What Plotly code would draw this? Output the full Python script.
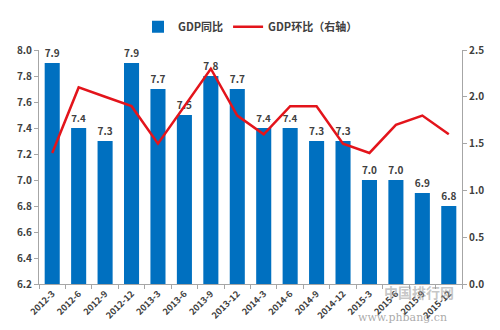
import plotly.graph_objects as go

quarters = ["2012-3", "2012-6", "2012-9", "2012-12", "2013-3", "2013-6", "2013-9", "2013-12",
            "2014-3", "2014-6", "2014-9", "2014-12", "2015-3", "2015-6", "2015-9", "2015-12"]
gdp_yoy = [7.9, 7.4, 7.3, 7.9, 7.7, 7.5, 7.8, 7.7, 7.4, 7.4, 7.3, 7.3, 7.0, 7.0, 6.9, 6.8]
gdp_qoq = [1.4, 2.1, 2.0, 1.9, 1.5, 1.9, 2.3, 1.8, 1.6, 1.9, 1.9, 1.5, 1.4, 1.7, 1.8, 1.6]
left_ticks = [6.2, 6.4, 6.6, 6.8, 7.0, 7.2, 7.4, 7.6, 7.8, 8.0]
right_ticks = [0.0, 0.5, 1.0, 1.5, 2.0, 2.5]

FONT = "Noto Sans CJK SC"
TXT = "#404040"
AX = "#A6A6A6"

fig = go.Figure()
fig.add_trace(go.Bar(
    x=quarters, y=gdp_yoy, name="GDP同比",
    marker=dict(color="#0070C0", line=dict(width=0)),
    text=[f"{v:.1f}" for v in gdp_yoy], textposition="outside",
    textfont=dict(family=FONT, size=11, color=TXT, weight="bold"),
    cliponaxis=False, yaxis="y",
))
fig.add_trace(go.Scatter(
    x=quarters, y=gdp_qoq, name="GDP环比（右轴）", mode="lines",
    line=dict(color="#E3141B", width=2.5), yaxis="y2",
))

fig.update_layout(
    width=500, height=330,
    margin=dict(l=39, r=38, t=50, b=46, autoexpand=False),
    paper_bgcolor="white", plot_bgcolor="white",
    font=dict(family=FONT, size=11, color=TXT),
    bargap=0.43,
    showlegend=True,
    legend=dict(orientation="h", x=0.5, xanchor="center", y=0.875, yanchor="bottom",
                yref="container", font=dict(family=FONT, size=11, color=TXT, weight="bold"),
                itemwidth=30, bgcolor="rgba(0,0,0,0)"),
    xaxis=dict(type="category", tickangle=-45, showline=True, linecolor=AX, linewidth=1,
               ticks="outside", tickson="boundaries", tickcolor=AX, ticklen=4,
               tickfont=dict(family=FONT, size=9, color=TXT, weight="bold"), showgrid=False),
    yaxis=dict(range=[6.2, 8.0], tickvals=left_ticks, tickformat=".1f", showline=True,
               linecolor=AX, linewidth=1, ticks="outside", tickcolor=AX, ticklen=4,
               showgrid=False, zeroline=False,
               tickfont=dict(family=FONT, size=10, color=TXT, weight="bold")),
    yaxis2=dict(range=[0, 2.5], tickvals=right_ticks, tickformat=".1f", overlaying="y",
                side="right", showline=True, linecolor=AX, linewidth=1, ticks="outside",
                tickcolor=AX, ticklen=4, showgrid=False, zeroline=False,
                tickfont=dict(family=FONT, size=10, color=TXT, weight="bold")),
)

fig.add_annotation(text="中国排行网", xref="paper", yref="paper", x=0.985, y=-0.035,
                   yanchor="middle", showarrow=False,
                   font=dict(family=FONT, size=14, color="rgba(150,150,150,0.55)", weight="bold"))
fig.add_annotation(text="www.phbang.cn", xref="paper", yref="paper", x=0.97, y=-0.145,
                   yanchor="middle", showarrow=False,
                   font=dict(family="DejaVu Serif", size=11, color="rgba(110,110,110,0.6)"))

fig.write_html("out.html")
